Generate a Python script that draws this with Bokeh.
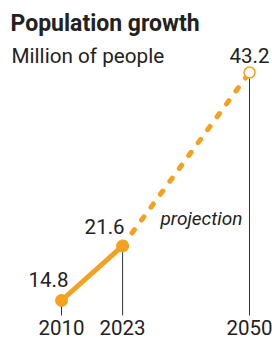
from bokeh.plotting import figure
from bokeh.models import ColumnDataSource, Label, Range1d
from bokeh.core.properties import value
from bokeh.embed import file_html
from bokeh.resources import INLINE

# ---- data ----
years = [2010, 2023, 2050]
population = [14.8, 21.6, 43.2]
value_labels = ["14.8", "21.6", "43.2"]
year_labels = ["2010", "2023", "2050"]
observed_years = [2010, 2023]
observed_values = [14.8, 21.6]
projected_years = [2023, 2050]
projected_values = [21.6, 43.2]

title_text = "Population growth"
subtitle_text = "Million of people"
note_text = "projection"

# ---- styling ----
W, H = 272, 340
ORANGE = "#F4A11F"
INK = "#222222"
FONT = "Roboto"
SHIFT = 7  # svg text renders a little below its alphabetic anchor

px_per_year = 4.7
px_per_unit = 8.028
x0 = 2010 - 61 / px_per_year
y1 = 43.2 + 72 / px_per_unit
x_range = Range1d(x0, x0 + W / px_per_year)
y_range = Range1d(y1 - H / px_per_unit, y1)
base = y1 - 315 / px_per_unit  # bottom of the drop lines

p = figure(width=W, height=H, output_backend="svg", toolbar_location=None,
           x_range=x_range, y_range=y_range, x_axis_type=None, y_axis_type=None,
           min_border=0, min_border_left=0, min_border_right=0,
           min_border_top=0, min_border_bottom=0)
p.outline_line_color = None
p.grid.visible = False
p.background_fill_color = "white"
p.border_fill_color = "white"

# drop lines
p.segment(x0=years, y0=population, x1=years, y1=[base] * len(years),
          line_color="#333333", line_width=1)

# observed line
p.line(observed_years, observed_values, line_color=ORANGE, line_width=5,
       line_cap="round")
# projected dashed line
p.line(projected_years, projected_values, line_color=ORANGE, line_width=5,
       line_dash="4 12", line_cap="round")

# points
p.scatter(observed_years, observed_values, size=12, fill_color=ORANGE,
          line_color=ORANGE)
p.scatter([years[-1]], [population[-1]], size=11, fill_color="white",
          line_color=ORANGE, line_width=1.5)

# value labels
lab_src = ColumnDataSource(dict(
    x=years, y=population, text=value_labels,
    xo=[-13, -18, 0], yo=[-14 - SHIFT, -12 - SHIFT, -10 - SHIFT]))
p.text(x="x", y="y", text="text", x_offset="xo", y_offset="yo", source=lab_src,
       text_font=value(FONT), text_font_size="20.5px", text_color=INK,
       text_align="center", text_baseline="alphabetic")

# year labels
yr_src = ColumnDataSource(dict(x=years, y=[base] * len(years), text=year_labels))
p.text(x="x", y="y", text="text", source=yr_src, y_offset=19 - SHIFT,
       text_font=value(FONT), text_font_size="20.5px", text_color=INK,
       text_align="center", text_baseline="alphabetic")

# title / subtitle / note
p.add_layout(Label(x=10, y=H - 30 + SHIFT, x_units="screen", y_units="screen",
                   text=title_text, text_font=FONT, text_font_size="23px",
                   text_font_style="bold", text_color=INK,
                   text_baseline="alphabetic"))
p.add_layout(Label(x=11, y=H - 62 + SHIFT, x_units="screen", y_units="screen",
                   text=subtitle_text, text_font=FONT, text_font_size="20.7px",
                   text_color=INK, text_baseline="alphabetic"))
p.add_layout(Label(x=160, y=H - 225 + SHIFT, x_units="screen", y_units="screen",
                   text=note_text, text_font=FONT, text_font_size="19px",
                   text_font_style="italic", text_color=INK,
                   text_baseline="alphabetic"))

open("out.html", "w").write(file_html(p, INLINE))
